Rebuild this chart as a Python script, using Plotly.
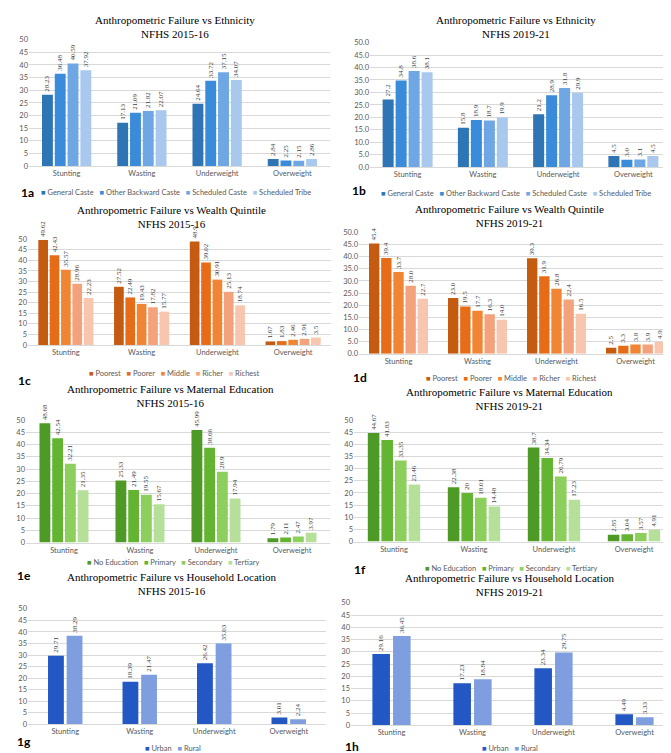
import plotly.graph_objects as go

W, H = 671, 753

# ---------------- data ----------------
indicators = ["Stunting", "Wasting", "Underweight", "Overweight"]

eth_groups = ["General Caste", "Other Backward Caste", "Scheduled Caste", "Scheduled Tribe"]
eth15_general = [28.23, 17.13, 24.64, 2.84]
eth15_obc = [36.48, 21.09, 33.72, 2.25]
eth15_sc = [40.59, 21.82, 37.15, 2.15]
eth15_st = [37.92, 22.07, 34.07, 2.86]
eth19_general = [27.2, 15.8, 21.2, 4.5]
eth19_obc = [34.8, 18.9, 28.9, 3.0]
eth19_sc = [38.6, 18.7, 31.8, 3.1]
eth19_st = [38.1, 19.9, 29.9, 4.5]

wealth_groups = ["Poorest", "Poorer", "Middle", "Richer", "Richest"]
w15_poorest = [49.62, 27.52, 48.9, 1.67]
w15_poorer = [42.43, 22.49, 39.02, 1.83]
w15_middle = [35.57, 19.43, 30.91, 2.46]
w15_richer = [28.96, 17.82, 25.13, 2.91]
w15_richest = [22.23, 15.77, 18.74, 3.5]
w19_poorest = [45.4, 23.0, 39.3, 2.5]
w19_poorer = [39.4, 19.5, 31.9, 3.3]
w19_middle = [33.7, 17.7, 26.8, 3.8]
w19_richer = [28.0, 16.3, 22.4, 3.9]
w19_richest = [22.7, 14.0, 16.5, 4.9]

edu_groups = ["No Education", "Primary", "Secondary", "Tertiary"]
e15_none = [48.68, 25.33, 45.99, 1.79]
e15_primary = [42.54, 21.49, 38.66, 2.11]
e15_secondary = [32.21, 19.55, 28.9, 2.47]
e15_tertiary = [21.35, 15.67, 17.94, 3.97]
e19_none = [44.67, 22.38, 38.7, 2.85]
e19_primary = [41.83, 20, 34.34, 3.04]
e19_secondary = [33.35, 18.01, 26.79, 3.57]
e19_tertiary = [23.46, 14.48, 17.23, 4.91]

loc_groups = ["Urban", "Rural"]
l15_urban = [29.71, 18.39, 26.42, 3.01]
l15_rural = [38.29, 21.47, 35.03, 2.24]
l19_urban = [29.16, 17.23, 23.34, 4.49]
l19_rural = [36.45, 18.84, 29.75, 3.33]

# ---------------- styles ----------------
eth_colors = ["#2E75B6", "#3A8CDB", "#6EA7E3", "#A8C8EE"]
wealth_colors = ["#C55A11", "#E66C17", "#F08534", "#F4A27C", "#F8C6AE"]
edu_colors = ["#4E9A26", "#63B531", "#8CCF5C", "#B6E09A"]
loc_colors = ["#2257C4", "#7E9EE0"]

SERIF = "Liberation Serif"
SANS = "Lato"

panels = [
    dict(letter="1a", title="Anthropometric Failure vs Ethnicity<br>NFHS 2015-16",
         groups=eth_groups, series=[eth15_general, eth15_obc, eth15_sc, eth15_st], colors=eth_colors,
         box=(21, 322, 28, 156), G=0.68, yfmt="d", lfmt="{:g}",
         tpos=(167, 15), lpos=(168, 183), apos=(19, 183)),
    dict(letter="1b", title="Anthropometric Failure vs Ethnicity<br>NFHS 2019-21",
         groups=eth_groups, series=[eth19_general, eth19_obc, eth19_sc, eth19_st], colors=eth_colors,
         box=(362, 663, 31, 157), G=0.69, yfmt=".1f", lfmt="{:.1f}",
         tpos=(508, 15.5), lpos=(508, 184), apos=(351, 181)),
    dict(letter="1c", title="Anthropometric Failure vs Wealth Quintile<br>NFHS 2015-16",
         groups=wealth_groups, series=[w15_poorest, w15_poorer, w15_middle, w15_richer, w15_richest],
         colors=wealth_colors,
         box=(20, 323, 230, 337), G=0.75, yfmt="d", lfmt="{:g}",
         tpos=(163, 207.5), lpos=(166, 366), apos=(16, 373)),
    dict(letter="1d", title="Anthropometric Failure vs Wealth Quintile<br>NFHS 2019-21",
         groups=wealth_groups, series=[w19_poorest, w19_poorer, w19_middle, w19_richer, w19_richest],
         colors=wealth_colors,
         box=(351, 667, 223, 346), G=0.77, yfmt=".1f", lfmt="{:.1f}",
         tpos=(501, 206), lpos=(503, 371), apos=(352, 370)),
    dict(letter="1e", title="Anthropometric Failure vs Maternal Education<br>NFHS 2015-16",
         groups=edu_groups, series=[e15_none, e15_primary, e15_secondary, e15_tertiary], colors=edu_colors,
         box=(18, 322, 413, 537), G=0.67, yfmt="d", lfmt="{:g}",
         tpos=(162, 389), lpos=(165, 557), apos=(16, 570)),
    dict(letter="1f", title="Anthropometric Failure vs Maternal Education<br>NFHS 2019-21",
         groups=edu_groups, series=[e19_none, e19_primary, e19_secondary, e19_tertiary], colors=edu_colors,
         box=(346, 666, 413, 536), G=0.68, yfmt="d", lfmt="{:g}",
         tpos=(501, 391.5), lpos=(503, 563), apos=(352, 564)),
    dict(letter="1g", title="Anthropometric Failure vs Household Location<br>NFHS 2015-16",
         groups=loc_groups, series=[l15_urban, l15_rural], colors=loc_colors,
         box=(20, 318, 604, 721), G=0.5, yfmt="d", lfmt="{:g}",
         tpos=(163, 578.5), lpos=(165, 745), apos=(16, 738)),
    dict(letter="1h", title="Anthropometric Failure vs Household Location<br>NFHS 2019-21",
         groups=loc_groups, series=[l19_urban, l19_rural], colors=loc_colors,
         box=(343, 667, 598, 722), G=0.51, yfmt="d", lfmt="{:g}",
         tpos=(502, 580), lpos=(502, 745), apos=(344, 743)),
]

GROUPGAP = 0.15


def px_x(x):
    return x / W


def px_y(y):
    return 1 - y / H


fig = go.Figure()
layout = dict(
    width=W, height=H,
    margin=dict(l=0, r=0, t=0, b=0),
    paper_bgcolor="white", plot_bgcolor="white",
    barmode="overlay", showlegend=False,
    font=dict(family=SANS, color="#595959"),
)
annotations = []

for i, p in enumerate(panels, start=1):
    xa = "x" if i == 1 else f"x{i}"
    ya = "y" if i == 1 else f"y{i}"
    l, r, t, b = p["box"]
    n = len(p["series"])
    slot = p["G"] / n
    w = slot * (1 - GROUPGAP)
    for j, (vals, col, name) in enumerate(zip(p["series"], p["colors"], p["groups"])):
        off = -p["G"] / 2 + j * slot + (slot - w) / 2
        fig.add_trace(go.Bar(
            x=indicators, y=vals, name=name,
            marker=dict(color=col, line=dict(width=0)),
            width=w, offset=off,
            text=[p["lfmt"].format(v) for v in vals],
            textposition="outside", textangle=-90,
            textfont=dict(family=SERIF, size=7, color="#404040"),
            constraintext="none", cliponaxis=False,
            xaxis=xa, yaxis=ya, hoverinfo="skip",
        ))
    layout["xaxis" if i == 1 else f"xaxis{i}"] = dict(
        domain=[px_x(l), px_x(r)], anchor=ya, type="category",
        categoryorder="array", categoryarray=indicators,
        showgrid=False, showline=True, linecolor="#D9D9D9", linewidth=1,
        ticks="", tickfont=dict(family=SANS, size=7.5, color="#595959"),
        fixedrange=True,
    )
    layout["yaxis" if i == 1 else f"yaxis{i}"] = dict(
        domain=[px_y(b), px_y(t)], anchor=xa, range=[0, 50], dtick=5,
        tickformat=p["yfmt"], showgrid=True, gridcolor="#D9D9D9", gridwidth=1,
        zeroline=False, showline=False, ticks="",
        tickfont=dict(family=SANS, size=7.5, color="#595959"),
        fixedrange=True,
    )
    # title
    annotations.append(dict(
        text=p["title"], x=px_x(p["tpos"][0]), y=px_y(p["tpos"][1]),
        xref="paper", yref="paper", xanchor="center", yanchor="middle",
        showarrow=False, font=dict(family=SERIF, size=11, color="#000000"),
    ))
    # legend (compact, Excel-like)
    parts = []
    for name, col in zip(p["groups"], p["colors"]):
        parts.append(f"<span style='color:{col}'>■</span> {name}")
    annotations.append(dict(
        text="&nbsp;&nbsp;&nbsp;".join(parts), x=px_x(p["lpos"][0]), y=px_y(p["lpos"][1]),
        xref="paper", yref="paper", xanchor="center", yanchor="middle",
        showarrow=False, font=dict(family=SANS, size=7.5, color="#595959"),
    ))
    # panel letter
    annotations.append(dict(
        text=f"<b>{p['letter']}</b>", x=px_x(p["apos"][0]), y=px_y(p["apos"][1]),
        xref="paper", yref="paper", xanchor="center", yanchor="middle",
        showarrow=False, font=dict(family=SANS, size=12, color="#000000"),
    ))

layout["annotations"] = annotations
fig.update_layout(**layout)
fig.write_html("out.html")
